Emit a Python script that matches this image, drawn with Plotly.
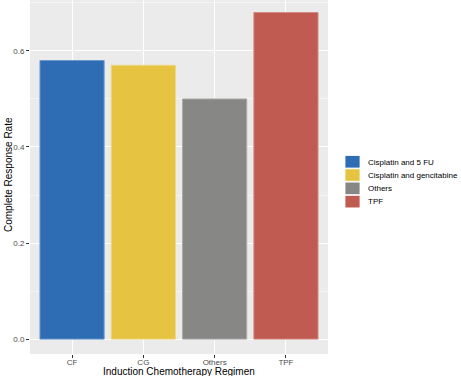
import plotly.graph_objects as go

categories = ["CF", "CG", "Others", "TPF"]
values = [0.58, 0.57, 0.50, 0.68]
legend_names = ["Cisplatin and 5 FU", "Cisplatin and gencitabine", "Others", "TPF"]
colors = ["#2E6DB4", "#E6C340", "#878886", "#C05B51"]
outline = ["#6A98CC", "#EED77F", "#A9AAA8", "#D48C85"]

fig = go.Figure()
for cat, val, name, col, oc in zip(categories, values, legend_names, colors, outline):
    fig.add_trace(go.Bar(
        x=[cat], y=[val], name=name,
        marker=dict(color=col, line=dict(color=oc, width=1)),
        width=0.9, showlegend=False,
    ))

# custom compact legend (ggplot style) in the right margin
PW = 461 - 30 - 133
PH = 376 - 0 - 22
def px_x(px):
    return (px - 30) / PW
def px_y(py):
    return (376 - 22 - py) / PH

for i, (name, col) in enumerate(zip(legend_names, colors)):
    top = 155.5 + i * 13.3
    fig.add_shape(type="rect", xref="paper", yref="paper",
                  x0=px_x(345), x1=px_x(360), y0=px_y(top + 12.5), y1=px_y(top),
                  fillcolor=col, line=dict(color="white", width=0.8))
    fig.add_annotation(xref="paper", yref="paper", x=px_x(366), y=px_y(top + 6.5),
                       xanchor="left", yanchor="middle", text=name, showarrow=False,
                       font=dict(size=8, color="black"))

fig.add_annotation(xref="paper", yref="paper", x=0.5, y=px_y(371.5), xanchor="center",
                   yanchor="middle", text="Induction Chemotherapy Regimen", showarrow=False,
                   font=dict(size=10, color="black"))
fig.add_annotation(xref="paper", yref="paper", x=px_x(8), y=px_y(175), xanchor="center",
                   yanchor="middle", text="Complete Response Rate", showarrow=False,
                   textangle=-90, font=dict(size=10, color="black"))

font_family = "Liberation Sans, Arial, sans-serif"
fig.update_layout(
    width=461, height=376,
    margin=dict(l=30, r=133, t=0, b=22, autoexpand=False),
    paper_bgcolor="white",
    plot_bgcolor="#EBEBEB",
    font=dict(family=font_family, size=8, color="#4D4D4D"),
    showlegend=False,
    bargap=0.1,
)
fig.update_xaxes(
    type="category",
    range=[-0.59, 3.59],
    automargin=False,
    showgrid=True, gridcolor="white", gridwidth=1.1,
    ticks="outside", ticklen=3, tickcolor="#333333", tickwidth=0.7,
    tickfont=dict(size=8, color="#4D4D4D"),
    ticklabelstandoff=-3,
    zeroline=False, showline=False,
)
fig.update_yaxes(
    range=[-0.031, 0.706],
    automargin=False,
    tickvals=[0.0, 0.2, 0.4, 0.6],
    ticktext=["0.0", "0.2", "0.4", "0.6"],
    showgrid=True, gridcolor="white", gridwidth=1.1,
    minor=dict(tickvals=[0.1, 0.3, 0.5, 0.7], showgrid=True, gridcolor="#F5F5F5", gridwidth=0.5, ticks=""),
    ticks="outside", ticklen=3, tickcolor="#333333", tickwidth=0.7,
    tickfont=dict(size=8, color="#4D4D4D"),
    zeroline=False, showline=False,
)

fig.write_html("out.html", config={"displayModeBar": False},
               post_script="document.body.style.margin='0px';")
